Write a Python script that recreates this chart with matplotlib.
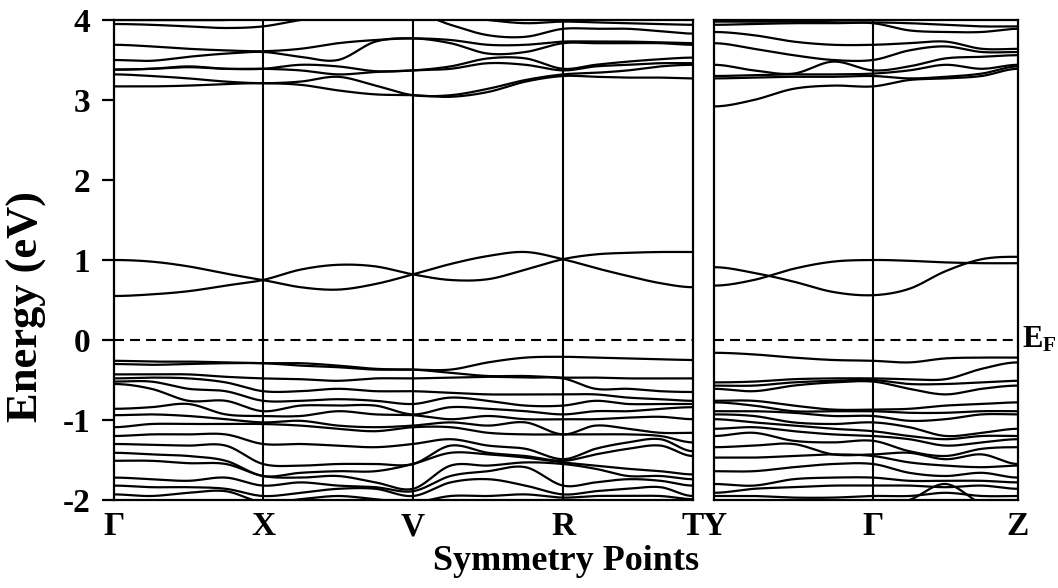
import numpy as np
import matplotlib.pyplot as plt

plt.rcParams['font.family'] = ['Liberation Serif', 'DejaVu Serif']
plt.rcParams['font.weight'] = 'bold'
plt.rcParams['axes.unicode_minus'] = False
plt.rcParams['mathtext.fontset'] = 'custom'
plt.rcParams['mathtext.rm'] = 'Liberation Serif:bold'
plt.rcParams['mathtext.bf'] = 'Liberation Serif:bold'

# k-path: segment lengths and labels
left_seg = [149, 150, 150, 130]          # G-X, X-V, V-R, R-T
right_seg = [159, 145]                   # Y-G, G-Z
left_labels = ['Γ', 'X', 'V', 'R', 'T']
right_labels = ['Y', 'Γ', 'Z']

# band energies (eV), 5 samples per segment (edges + quarter points)
# left panel: 17 samples G ... T
left_bands = [
    # conduction, near 1 eV
    [0.55, 0.57, 0.61, 0.68, 0.75, 0.88, 0.94, 0.92, 0.82, 0.75, 0.76, 0.88, 1.01, 1.07, 1.09, 1.10, 1.10],
    [1.00, 0.98, 0.92, 0.83, 0.75, 0.66, 0.63, 0.70, 0.82, 0.95, 1.05, 1.10, 1.01, 0.90, 0.80, 0.71, 0.66],
    # conduction, 3-4 eV
    [4.00, 4.00, 4.00, 4.00, 4.02, 4.06, 4.10, 4.10, 4.10, 4.06, 4.00, 3.96, 3.98, 3.97, 3.96, 3.95, 3.94],
    [3.95, 3.94, 3.92, 3.90, 3.92, 4.00, 4.06, 4.10, 4.10, 3.94, 3.81, 3.79, 3.89, 3.89, 3.89, 3.86, 3.83],
    [3.69, 3.67, 3.64, 3.62, 3.61, 3.64, 3.71, 3.75, 3.77, 3.75, 3.69, 3.69, 3.73, 3.73, 3.73, 3.72, 3.71],
    [3.50, 3.49, 3.54, 3.58, 3.60, 3.54, 3.50, 3.73, 3.77, 3.71, 3.58, 3.60, 3.71, 3.71, 3.71, 3.71, 3.69],
    [3.38, 3.39, 3.42, 3.39, 3.39, 3.44, 3.42, 3.36, 3.37, 3.42, 3.52, 3.52, 3.39, 3.44, 3.48, 3.51, 3.53],
    [3.38, 3.39, 3.41, 3.39, 3.39, 3.37, 3.32, 3.35, 3.37, 3.39, 3.46, 3.44, 3.37, 3.42, 3.44, 3.46, 3.46],
    [3.32, 3.30, 3.27, 3.23, 3.21, 3.23, 3.29, 3.18, 3.06, 3.06, 3.14, 3.25, 3.32, 3.34, 3.37, 3.42, 3.44],
    [3.17, 3.17, 3.18, 3.20, 3.21, 3.19, 3.12, 3.07, 3.06, 3.04, 3.10, 3.23, 3.30, 3.29, 3.28, 3.28, 3.27],
    # valence
    [-0.26, -0.27, -0.27, -0.28, -0.29, -0.29, -0.32, -0.36, -0.37, -0.37, -0.28, -0.22, -0.21, -0.22, -0.23, -0.24, -0.25],
    [-0.30, -0.31, -0.30, -0.29, -0.29, -0.32, -0.34, -0.37, -0.37, -0.41, -0.45, -0.45, -0.47, -0.47, -0.48, -0.48, -0.48],
    [-0.43, -0.43, -0.43, -0.46, -0.48, -0.49, -0.51, -0.48, -0.48, -0.47, -0.46, -0.47, -0.48, -0.61, -0.61, -0.64, -0.65],
    [-0.48, -0.47, -0.48, -0.53, -0.64, -0.64, -0.61, -0.64, -0.64, -0.66, -0.68, -0.68, -0.68, -0.68, -0.72, -0.74, -0.76],
    [-0.52, -0.52, -0.61, -0.64, -0.76, -0.76, -0.74, -0.76, -0.80, -0.72, -0.76, -0.82, -0.82, -0.76, -0.80, -0.80, -0.80],
    [-0.55, -0.61, -0.76, -0.76, -0.89, -0.82, -0.82, -0.82, -0.93, -0.84, -0.86, -0.89, -0.93, -0.89, -0.89, -0.86, -0.84],
    [-0.86, -0.84, -0.80, -0.93, -0.95, -0.95, -0.89, -0.93, -0.94, -0.99, -0.95, -0.99, -0.99, -0.99, -0.97, -0.96, -0.99],
    [-0.94, -0.93, -0.95, -0.99, -1.03, -1.01, -1.07, -1.09, -1.07, -1.03, -1.07, -1.03, -1.18, -1.07, -1.11, -1.16, -1.16],
    [-1.09, -1.05, -1.05, -1.05, -1.05, -1.07, -1.11, -1.14, -1.09, -1.09, -1.16, -1.18, -1.18, -1.18, -1.18, -1.20, -1.28],
    [-1.20, -1.18, -1.18, -1.18, -1.30, -1.30, -1.32, -1.34, -1.30, -1.24, -1.32, -1.36, -1.49, -1.36, -1.28, -1.24, -1.39],
    [-1.30, -1.31, -1.32, -1.32, -1.55, -1.57, -1.55, -1.55, -1.55, -1.32, -1.41, -1.45, -1.51, -1.43, -1.36, -1.32, -1.45],
    [-1.41, -1.43, -1.45, -1.51, -1.70, -1.66, -1.64, -1.64, -1.55, -1.41, -1.43, -1.47, -1.53, -1.57, -1.61, -1.64, -1.68],
    [-1.51, -1.51, -1.54, -1.55, -1.70, -1.72, -1.70, -1.78, -1.86, -1.57, -1.57, -1.53, -1.55, -1.61, -1.70, -1.70, -1.74],
    [-1.72, -1.74, -1.76, -1.72, -1.82, -1.78, -1.82, -1.84, -1.89, -1.70, -1.64, -1.59, -1.82, -1.78, -1.74, -1.76, -1.82],
    [-1.82, -1.84, -1.84, -1.86, -1.95, -1.91, -1.86, -1.86, -1.95, -1.78, -1.74, -1.82, -1.93, -1.89, -1.86, -1.84, -1.95],
    [-1.93, -1.95, -1.91, -1.89, -2.03, -1.99, -1.95, -1.99, -2.03, -1.95, -1.95, -1.93, -1.97, -1.95, -1.95, -1.95, -1.99],
]

# right panel: 9 samples Y ... G ... Z
right_bands = [
    # conduction, near 1 eV
    [0.91, 0.84, 0.73, 0.60, 0.56, 0.64, 0.86, 1.01, 1.04],
    [0.68, 0.75, 0.89, 0.98, 1.00, 0.99, 0.97, 0.96, 0.96],
    # conduction, 3-4 eV
    [3.98, 3.98, 3.98, 3.97, 3.97, 3.96, 3.94, 3.92, 3.92],
    [3.94, 3.95, 3.96, 3.96, 3.96, 3.87, 3.85, 3.85, 3.89],
    [3.85, 3.81, 3.73, 3.69, 3.69, 3.71, 3.73, 3.64, 3.64],
    [3.71, 3.64, 3.56, 3.50, 3.50, 3.62, 3.67, 3.60, 3.60],
    [3.44, 3.37, 3.33, 3.48, 3.37, 3.42, 3.52, 3.54, 3.56],
    [3.30, 3.31, 3.32, 3.32, 3.33, 3.37, 3.44, 3.39, 3.44],
    [3.27, 3.28, 3.29, 3.29, 3.30, 3.27, 3.29, 3.33, 3.42],
    [2.92, 3.00, 3.14, 3.18, 3.17, 3.25, 3.27, 3.30, 3.39],
    # valence
    [-0.16, -0.18, -0.22, -0.25, -0.26, -0.28, -0.23, -0.22, -0.22],
    [-0.53, -0.52, -0.49, -0.48, -0.48, -0.49, -0.49, -0.36, -0.28],
    [-0.57, -0.57, -0.53, -0.51, -0.50, -0.55, -0.55, -0.53, -0.51],
    [-0.61, -0.64, -0.57, -0.53, -0.52, -0.61, -0.68, -0.61, -0.57],
    [-0.76, -0.76, -0.82, -0.87, -0.87, -0.86, -0.82, -0.80, -0.78],
    [-0.78, -0.82, -0.89, -0.89, -0.89, -0.91, -0.91, -0.89, -0.89],
    [-0.89, -0.89, -0.91, -0.95, -0.95, -1.01, -0.99, -0.93, -0.93],
    [-0.93, -0.95, -1.03, -1.05, -1.03, -1.09, -1.20, -1.16, -1.11],
    [-0.99, -1.03, -1.07, -1.11, -1.14, -1.20, -1.24, -1.20, -1.20],
    [-1.11, -1.09, -1.14, -1.18, -1.20, -1.24, -1.32, -1.28, -1.24],
    [-1.20, -1.16, -1.26, -1.28, -1.26, -1.39, -1.45, -1.36, -1.34],
    [-1.34, -1.32, -1.30, -1.43, -1.43, -1.41, -1.49, -1.43, -1.55],
    [-1.47, -1.47, -1.45, -1.43, -1.45, -1.53, -1.57, -1.59, -1.57],
    [-1.64, -1.64, -1.59, -1.55, -1.55, -1.66, -1.70, -1.66, -1.72],
    [-1.80, -1.82, -1.74, -1.72, -1.72, -1.76, -1.76, -1.76, -1.78],
    [-1.91, -1.86, -1.84, -1.82, -1.82, -1.82, -1.84, -1.82, -1.86],
    [-1.95, -1.95, -1.97, -1.97, -1.95, -1.95, -1.91, -1.95, -1.95],
    [-2.15, -2.15, -2.10, -2.10, -2.10, -2.00, -1.80, -2.05, -2.20],
]


def kpoints(seg):
    """sample positions along the path: quarter points of each segment"""
    ks = [0.0]
    start = 0.0
    for s in seg:
        ks += list(start + s * np.array([0.25, 0.5, 0.75, 1.0]))
        start += s
    return np.array(ks), np.concatenate([[0], np.cumsum(seg)])


def smooth(xn, yn, num=25):
    # cubic hermite through the read samples, flat at the panel ends
    yn = np.asarray(yn, float)
    m = np.zeros_like(yn)
    m[1:-1] = (yn[2:] - yn[:-2]) / (xn[2:] - xn[:-2])
    xs, ys = [], []
    t = np.linspace(0, 1, num)
    h00 = 2 * t**3 - 3 * t**2 + 1
    h10 = t**3 - 2 * t**2 + t
    h01 = -2 * t**3 + 3 * t**2
    h11 = t**3 - t**2
    for i in range(len(xn) - 1):
        h = xn[i + 1] - xn[i]
        xs.append(xn[i] + t * h)
        ys.append(h00 * yn[i] + h10 * h * m[i] + h01 * yn[i + 1] + h11 * h * m[i + 1])
    return np.concatenate(xs), np.concatenate(ys)


fig = plt.figure(figsize=(10.58, 5.88), dpi=100)
ax1 = fig.add_axes([114 / 1058, 88 / 588, 579 / 1058, 480 / 588])
ax2 = fig.add_axes([714 / 1058, 88 / 588, 304 / 1058, 480 / 588])

for ax, seg, bands, labels in [(ax1, left_seg, left_bands, left_labels),
                               (ax2, right_seg, right_bands, right_labels)]:
    ks, nodes = kpoints(seg)
    for b in bands:
        x, y = smooth(ks, b)
        ax.plot(x, y, color='black', lw=1.6, solid_capstyle='butt')
    for n in nodes[1:-1]:
        ax.axvline(n, color='black', lw=1.5)
    ax.axhline(0, color='black', lw=1.5, ls=(0, (4.8, 2.9)))
    ax.set_xlim(nodes[0], nodes[-1])
    ax.set_ylim(-2, 4)
    ax.set_xticks(nodes)
    ax.set_xticklabels(labels)
    ax.tick_params(axis='x', length=0, pad=8, labelsize=24)
    for sp in ax.spines.values():
        sp.set_linewidth(1.6)

ax1.set_yticks(range(-2, 5))
ax1.tick_params(axis='y', direction='out', length=9, width=1.6, labelsize=24, pad=8)
ax2.tick_params(axis='y', left=False, labelleft=False)

ax2.text(1.012, 0, r'$\mathbf{E_F}$', transform=ax2.get_yaxis_transform(),
         ha='left', va='center', fontsize=22)

fig.text(27 / 1058, 1 - 307 / 588, 'Energy (eV)', rotation=90, ha='center', va='center',
         fontsize=32, fontweight='bold')
fig.text(566 / 1058, 1 - 562 / 588, 'Symmetry Points', ha='center', va='center',
         fontsize=26, fontweight='bold')

fig.savefig('out.png', dpi=100)
